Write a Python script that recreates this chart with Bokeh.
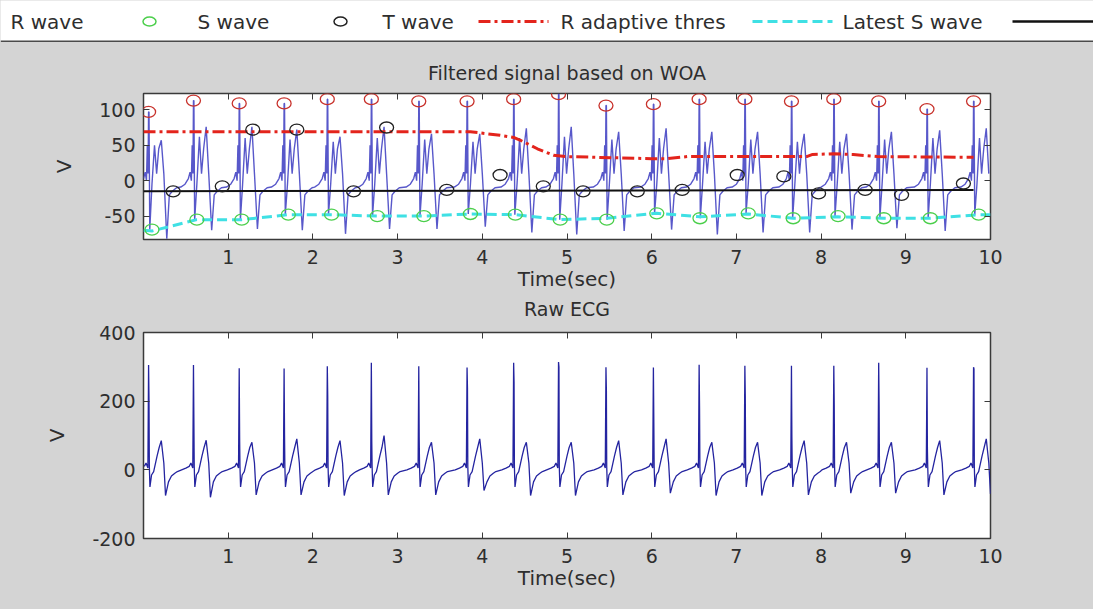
import numpy as np
from bokeh.plotting import figure
from bokeh.layouts import column
from bokeh.models import Range1d, LinearAxis, FixedTicker, Span, Title
from bokeh.core.properties import value
from bokeh.embed import file_html
from bokeh.resources import INLINE

# ---------------- data ----------------
# R-peak detections (s, V) on the filtered signal
r_times = [0.06, 0.59, 1.13, 1.66, 2.17, 2.69, 3.25, 3.82, 4.37, 4.90,
           5.46, 6.02, 6.56, 7.10, 7.65, 8.15, 8.68, 9.25, 9.80]
r_vals = [97, 113, 109, 109, 115, 115, 112, 112, 115, 122,
          106, 108, 115, 115, 112, 115, 112, 101, 112]

# S-wave detections
s_times = [0.10, 0.63, 1.16, 1.71, 2.22, 2.76, 3.31, 3.86, 4.39, 4.92,
           5.47, 6.06, 6.57, 7.14, 7.67, 8.20, 8.74, 9.29, 9.86]
s_vals = [-69, -55, -55, -48, -48, -50, -50, -47, -48, -55,
          -55, -46, -53, -46, -53, -50, -53, -53, -48]

# T-wave detections
t_times = [0.35, 0.93, 1.29, 1.81, 2.48, 2.87, 3.58, 4.21, 4.72,
           5.19, 5.83, 6.36, 7.01, 7.56, 7.97, 8.52, 8.95, 9.68]
t_vals = [-15, -8, 72, 72, -15, 75, -13, 8, -8,
          -15, -15, -13, 8, 6, -18, -13, -20, -4]

# adaptive R threshold
rthr_times = [0.0, 3.86, 4.21, 4.37, 4.45, 4.65, 4.84, 5.00, 6.00, 6.18,
              6.42, 7.83, 7.90, 8.15, 8.38, 8.66, 9.80]
rthr_vals = [69, 69, 64, 61, 57, 45, 36, 34, 31, 31,
             34, 34, 37, 38, 37, 34, 33]

# latest S-wave level
latest_s_times = [0.0, 0.10, 0.63, 1.16, 1.71, 2.22, 2.76, 3.31, 3.86, 4.39, 4.92,
                  5.47, 6.06, 6.57, 7.14, 7.67, 8.20, 8.74, 9.29, 9.86, 10.0]
latest_s_vals = [-70, -71, -55, -55, -48, -48, -50, -50, -47, -48, -55,
                 -53, -46, -51, -47, -53, -51, -53, -53, -48, -48]

# T-wave threshold (black line)
tthr_times = [0.0, 9.80]
tthr_vals = [-15, -13]

# filtered-signal beat shape: offsets from the R peak (s) and levels;
# letters refer to the per-beat arrays below
filt_offsets = [-0.15, -0.10, -0.06, -0.04, -0.025, -0.015, -0.006, 0.0, 0.005, 0.014,
                0.04, 0.07, 0.095, 0.12, 0.15, 0.18, 0.215, 0.245, 0.28, 0.33]
filt_levels = [-9, -5, 3, 12, 0, 50, 10, "R", "R", "S",
               -5, "H", 10, 45, "P", 10, "D", -20, -15, -10]
filt_hump = [50, 62, 60, 58, 55, 60, 58, 55, 60, 62,
             58, 60, 55, 58, 55, 55, 58, 60, 60]
filt_peak = [57, 76, 76, 72, 62, 76, 66, 66, 74, 76,
             69, 74, 69, 69, 66, 66, 69, 71, 74]
filt_dip = [-82, -70, -68, -70, -75, -68, -68, -65, -73, -76,
            -71, -69, -76, -73, -73, -69, -67, -71, -70]

# raw ECG beat shape
raw_offsets = [-0.14, -0.09, -0.05, -0.03, -0.008, 0.0, 0.005, 0.009, 0.016, 0.035,
               0.06, 0.10, 0.125, 0.15, 0.18, 0.20, 0.235, 0.27, 0.31, 0.34]
raw_levels = [0, 5, 10, 20, 5, "R", "Q", 10, -50, -15,
              -5, 40, 65, "P", 20, "D", -35, -18, -10, -5]
raw_r = [305, 305, 296, 295, 302, 312, 302, 298, 312, 314,
         299, 298, 306, 303, 303, 303, 312, 297, 299]
raw_r2 = [202, 139, 90, 105, 216, 85, 95, 236, 255, 299,
          231, 144, 178, 212, 95, 187, 186, 61, 294]
raw_peak = [85, 86, 80, 90, 85, 100, 80, 90, 80, 80,
            85, 90, 80, 80, 85, 80, 80, 85, 90]
raw_dip = [-75, -80, -73, -73, -75, -73, -73, -60, -75, -75,
           -73, -68, -75, -75, -73, -68, -68, -73, -70]

x_ticks = [1, 2, 3, 4, 5, 6, 7, 8, 9, 10]
filt_yticks = [-50, 0, 50, 100]
raw_yticks = [-200, 0, 200, 400]


def build_trace(beats, offsets, levels, params, t_max=10.0):
    ts, vs = [], []
    for i, bt in enumerate(beats):
        nxt = beats[i + 1] + offsets[0] if i + 1 < len(beats) else t_max + 1
        for off, lvl in zip(offsets, levels):
            t = bt + off
            if t < 0 or t > t_max or t >= nxt:
                continue
            ts.append(t)
            vs.append(params[lvl][i] if isinstance(lvl, str) else lvl)
    return np.array(ts), np.array(vs)


filt_t, filt_v = build_trace(r_times, filt_offsets, filt_levels,
                             {"R": r_vals, "S": s_vals, "H": filt_hump,
                              "P": filt_peak, "D": filt_dip})
raw_t, raw_v = build_trace(r_times, raw_offsets, raw_levels,
                           {"R": raw_r, "Q": raw_r2, "P": raw_peak, "D": raw_dip})

# ---------------- styling ----------------
W = 1093
FONT = "DejaVu Sans"
TXT = "#2e2e2e"
PANEL = "#d4d4d4"
RED = "#e3241c"
CYAN = "#3fe0e4"
GREEN = "#4ccf4c"
RCIRC = "#c8322c"


def title_obj(text, gap):
    return Title(text=text, align="center", text_font=FONT, text_font_size="19px",
                 text_font_style="normal", text_color=TXT, standoff=gap)


def make_panel(height, yr, yticks, top, bottom, neg_labels):
    p = figure(width=W, height=height, x_range=Range1d(0, 10), y_range=Range1d(*yr),
               output_backend="svg", toolbar_location=None, title_location=None,
               min_border_left=143, min_border_right=103,
               min_border_top=top, min_border_bottom=bottom,
               background_fill_color="white", border_fill_color=PANEL,
               outline_line_color="#3a3a3a", outline_line_width=1.5)
    p.grid.visible = False
    xa = p.below[0]
    ya = p.left[0]
    xa.ticker = FixedTicker(ticks=x_ticks)
    ya.ticker = FixedTicker(ticks=yticks)
    ya.major_label_overrides = neg_labels
    for ax in (xa, ya):
        ax.major_tick_in = 6
        ax.major_tick_out = 0
        ax.major_tick_line_color = "#3a3a3a"
        ax.minor_tick_line_color = None
        ax.axis_line_color = None
        ax.major_label_text_font = FONT
        ax.major_label_text_font_size = "19px"
        ax.major_label_text_color = TXT
        ax.axis_label_text_font = FONT
        ax.axis_label_text_font_size = "20px"
        ax.axis_label_text_font_style = "normal"
        ax.axis_label_text_color = TXT
    xa.axis_label = "Time(sec)"
    ya.axis_label = "V"
    xa.major_label_standoff = 10
    xa.axis_label_standoff = 0
    ya.major_label_standoff = 8
    ya.axis_label_standoff = 20
    for side, tk in (("above", x_ticks), ("right", yticks)):
        ax = LinearAxis(ticker=FixedTicker(ticks=tk), major_label_text_font_size="0px",
                        major_label_standoff=0, major_tick_in=6, major_tick_out=0,
                        major_tick_line_color="#3a3a3a", minor_tick_line_color=None,
                        axis_line_color=None)
        p.add_layout(ax, side)
    return p


# ---------------- legend strip ----------------
lg = figure(width=W, height=42, x_range=Range1d(0, W), y_range=Range1d(42, 0),
            output_backend="svg", toolbar_location=None, min_border=0,
            x_axis_type=None, y_axis_type=None, title_location=None,
            background_fill_color="white", border_fill_color="white",
            outline_line_color=None)
lg.frame_align = False
lg.grid.visible = False
ly = 21
lg.text(x=[10, 197, 382, 560, 842], y=[ly] * 5,
        text=["R wave", "S wave", "T wave", "R adaptive thres", "Latest S wave"],
        text_font=value(FONT), text_font_size="20px", text_color=TXT,
        text_baseline="middle", text_align="left")
lg.ellipse(x=[149], y=[ly], width=13, height=9, width_units="screen", height_units="screen",
           fill_color=None, line_color=GREEN, line_width=1.5)
lg.ellipse(x=[340], y=[ly], width=13, height=9, width_units="screen", height_units="screen",
           fill_color=None, line_color="#222222", line_width=1.5)
lg.line(x=[478, 548], y=[ly, ly], line_color=RED, line_width=3, line_dash="12 4 3 4")
lg.line(x=[752, 832], y=[ly, ly], line_color=CYAN, line_width=3, line_dash="10 5")
lg.line(x=[1012, 1093], y=[ly, ly], line_color="#111111", line_width=2.5)
lg.add_layout(Span(location=41, dimension="width", line_color="#4a4a4a", line_width=2))

# ---------------- filtered signal ----------------
p1 = make_panel(279, (-83, 123), filt_yticks, 51, 81, {-50: "-50"})
p1.add_layout(title_obj("Filtered signal based on WOA", 19), "above")
# the lower panel's heading sits in the gap between the two panels
p1.add_layout(title_obj("Raw ECG", 4), "below")
p1.line(filt_t, filt_v, line_color="#4646c4", line_width=1.4, line_alpha=0.9)
p1.line(rthr_times, rthr_vals, line_color=RED, line_width=3, line_dash="12 4 3 4")
p1.line(latest_s_times, latest_s_vals, line_color=CYAN, line_width=3, line_dash="10 5")
p1.line(tthr_times, tthr_vals, line_color="#111111", line_width=2)
p1.ellipse(r_times, r_vals, width=14, height=11, width_units="screen", height_units="screen",
           fill_color=None, line_color=RCIRC, line_width=1.3)
p1.ellipse(s_times, s_vals, width=14, height=11, width_units="screen", height_units="screen",
           fill_color=None, line_color=GREEN, line_width=1.3)
p1.ellipse(t_times, t_vals, width=14, height=11, width_units="screen", height_units="screen",
           fill_color=None, line_color="#222222", line_width=1.3)

# ---------------- raw ECG ----------------
p2 = make_panel(288, (-200, 400), raw_yticks, 11, 71, {-200: "-200"})
p2.line(raw_t, raw_v, line_color="#2424a0", line_width=1.3)

layout = column(lg, p1, p2, spacing=0, styles={"background-color": PANEL})
open("out.html", "w").write(file_html(layout, INLINE))
